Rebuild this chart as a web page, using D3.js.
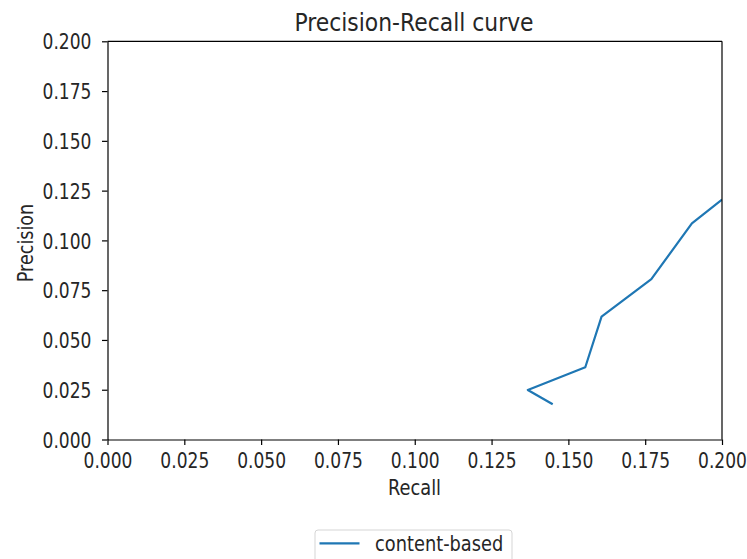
<!DOCTYPE html>
<html>
<head>
<meta charset="utf-8">
<script src="https://cdn.jsdelivr.net/npm/d3@7"></script>
<style>
  body { margin: 0; background: #fff; }
  text { font-family: "DejaVu Sans", sans-serif; fill: #262626; }
  .axis path, .axis line { stroke: #000; stroke-width: 1.2px; }
</style>
</head>
<body>
<div id="chart-area"></div>
<script>
// Data
var seriesName = "content-based";
var recall    = [0.200, 0.1902, 0.1770, 0.1608, 0.1555, 0.1368, 0.1449];
var precision = [0.1205, 0.1086, 0.0805, 0.0617, 0.0363, 0.0249, 0.0177];
var xTicks = [0, 0.025, 0.05, 0.075, 0.1, 0.125, 0.15, 0.175, 0.2];
var yTicks = [0, 0.025, 0.05, 0.075, 0.1, 0.125, 0.15, 0.175, 0.2];

var margin = { left: 107.5, right: 25, top: 41.3, bottom: 119.5 };
var width = 747 - margin.left - margin.right,
    height = 559 - margin.top - margin.bottom;

// text in the reference is a bit taller than it is wide
var stretch = 1.2;

var svg = d3.select("#chart-area")
    .append("svg")
        .attr("width", 747)
        .attr("height", 559);

var g = svg.append("g")
    .attr("transform", "translate(" + margin.left + ", " + margin.top + ")");

// Scales
var x = d3.scaleLinear().domain([0, 0.2]).range([0, width]);
var y = d3.scaleLinear().domain([0, 0.2]).range([height, 0]);

// Clip for the line
g.append("clipPath").attr("id", "clip")
  .append("rect").attr("width", width).attr("height", height);

var points = recall.map(function(r, i){ return [r, precision[i]]; });
var line = d3.line()
    .x(function(d){ return x(d[0]); })
    .y(function(d){ return y(d[1]); });

g.append("path")
    .datum(points)
    .attr("clip-path", "url(#clip)")
    .attr("fill", "none")
    .attr("stroke", "#1f77b4")
    .attr("stroke-width", 2.2)
    .attr("stroke-linejoin", "round")
    .attr("d", line);

// Axes
var fmt = d3.format(".3f");
g.append("g")
    .attr("class", "x axis")
    .attr("transform", "translate(0," + height + ")")
    .call(d3.axisBottom(x).tickValues(xTicks).tickFormat(fmt).tickSizeInner(5.5).tickSizeOuter(0))
    .selectAll("text")
        .attr("y", 0).attr("dy", 0)
        .attr("transform", "translate(0,28.8) scale(1," + stretch + ")")
        .attr("font-size", "17.1px").attr("font-family", "DejaVu Sans").attr("fill", "#262626");

g.append("g")
    .attr("class", "y axis")
    .call(d3.axisLeft(y).tickValues(yTicks).tickFormat(fmt).tickSizeInner(5.5).tickSizeOuter(0))
    .selectAll("text")
        .attr("x", 0).attr("dy", 0)
        .attr("transform", "translate(-16,7.6) scale(1," + stretch + ")")
        .attr("font-size", "17.1px").attr("font-family", "DejaVu Sans").attr("fill", "#262626");

// Top and right spines
g.append("line").attr("x1", 0).attr("x2", width).attr("y1", 0).attr("y2", 0)
    .attr("stroke", "#000").attr("stroke-width", 1.2);
g.append("line").attr("x1", width).attr("x2", width).attr("y1", 0).attr("y2", height)
    .attr("stroke", "#000").attr("stroke-width", 1.2);

// Title
svg.append("text")
    .attr("transform", "translate(414," + 31 + ") scale(1,1.11)")
    .attr("text-anchor", "middle")
    .attr("font-size", "21.9px")
    .text("Precision-Recall curve");

// X Label
svg.append("text")
    .attr("transform", "translate(414.5,495) scale(1," + stretch + ")")
    .attr("text-anchor", "middle")
    .attr("font-size", "17.8px")
    .text("Recall");

// Y Label
svg.append("text")
    .attr("transform", "translate(32.5,243) rotate(-90) scale(1," + stretch + ")")
    .attr("text-anchor", "middle")
    .attr("font-size", "17.6px")
    .text("Precision");

// Legend
var legend = svg.append("g").attr("transform", "translate(315, 530)");
legend.append("rect")
    .attr("width", 197)
    .attr("height", 40)
    .attr("rx", 3)
    .attr("fill", "#fff")
    .attr("stroke", "#d5d5d5")
    .attr("stroke-width", 1);
legend.append("line")
    .attr("x1", 4.5).attr("x2", 44.5).attr("y1", 13.3).attr("y2", 13.3)
    .attr("stroke", "#1f77b4").attr("stroke-width", 2.2);
legend.append("text")
    .attr("transform", "translate(60,21) scale(1," + stretch + ")")
    .attr("font-size", "17.8px")
    .text(seriesName);
</script>
</body>
</html>
